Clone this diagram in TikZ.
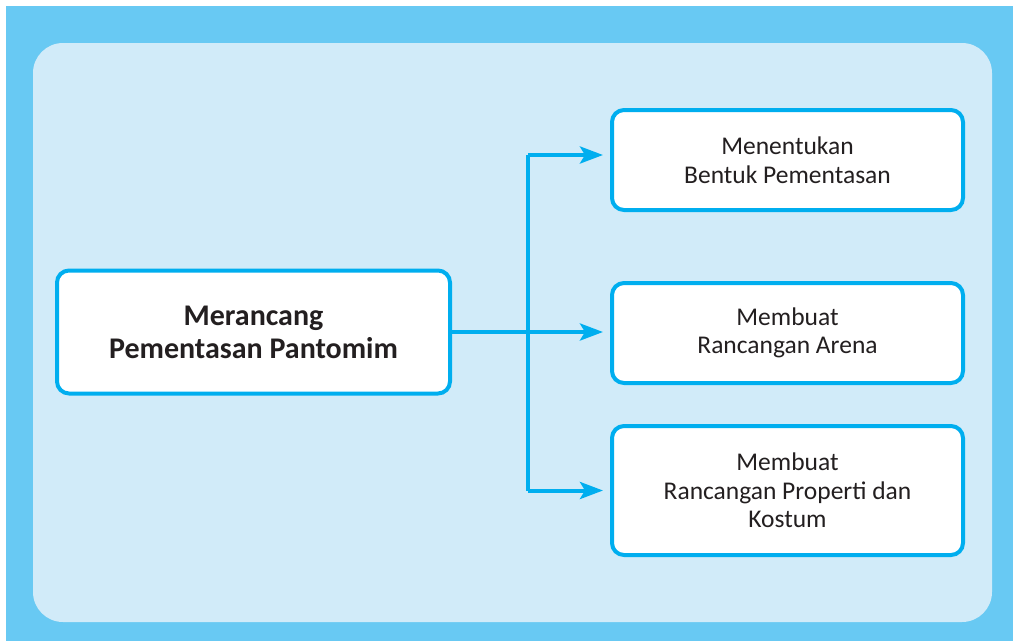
\documentclass[tikz,border=0pt]{standalone}
\usepackage{fontspec}
\setmainfont{Carlito}
\usetikzlibrary{arrows.meta,positioning}
\definecolor{framebg}{HTML}{68C9F3}
\definecolor{panelbg}{HTML}{D1EBF9}
\definecolor{boxline}{HTML}{00AEEF}
\definecolor{textdark}{HTML}{231F20}
\tikzset{
  rootbox/.style={
    draw=boxline,
    fill=white,
    line width=4pt,
    rounded corners=12pt,
    align=center,
    text=textdark,
    minimum width=393pt,
    minimum height=123pt,
    font=\fontsize{30}{33}\selectfont\bfseries
  },
  leafbox/.style={
    draw=boxline,
    fill=white,
    line width=4pt,
    rounded corners=12pt,
    align=center,
    text=textdark,
    minimum width=351pt,
    minimum height=100pt,
    font=\fontsize{25.5}{28.5}\selectfont
  },
  branch/.style={
    draw=boxline,
    line width=4pt
  },
  pointer/.style={
    branch,
    -{Stealth[length=23pt,width=17pt,inset=5pt]},
    shorten >=7pt
  }
}
\begin{document}
\begin{tikzpicture}[x=1pt,y=-1pt]
\useasboundingbox (0,0) rectangle (1013,641);
% background frame and panel
\fill[framebg] (6,6) rectangle (1013,641);
\fill[panelbg,rounded corners=30pt] (33,43) rectangle (992,622);

% boxes
\node[rootbox] (root) at (253.5,332) {Merancang\\Pementasan Pantomim};
\node[leafbox] (bentuk) at (787.5,160) {Menentukan\\Bentuk Pementasan};
\node[leafbox] (arena) at (787.5,333) {Membuat\\Rancangan Arena};
\node[leafbox,minimum height=129pt] (kostum) at (787.5,490.5) {Membuat\\Rancangan Properti dan\\Kostum};

% connectors
\coordinate (fork) at (528,332);
\draw[pointer] (root.east) -- (arena.west |- root.east);
\draw[branch,line join=miter] ([yshift=5pt]fork |- bentuk.west) -- (fork |- kostum.west);
\draw[pointer] ([yshift=5pt]fork |- bentuk.west) -- ([yshift=5pt]bentuk.west);
\draw[pointer] (fork |- kostum.west) -- (kostum.west);
\end{tikzpicture}
\end{document}
